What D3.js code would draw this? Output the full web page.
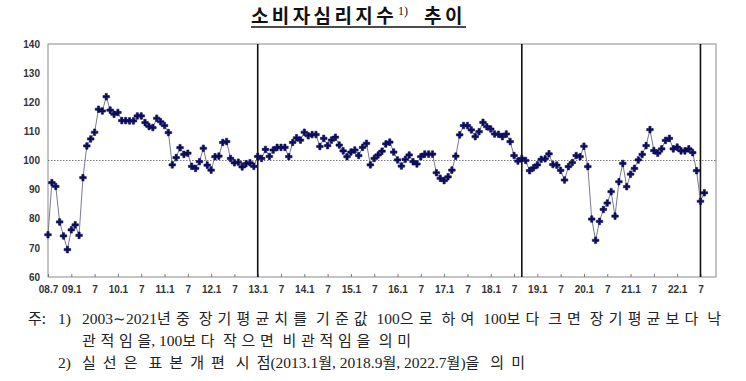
<!DOCTYPE html>
<html><head><meta charset="utf-8">
<script src="https://cdn.jsdelivr.net/npm/d3@7"></script>
<style>
body{margin:0;background:#fff;}
svg{display:block;}
</style></head>
<body>
<svg id="chart" width="746" height="381"></svg>
<script>
// Monthly CCSI from 2008.7 to 2022.8
const startYear = 2008, startMonth = 7;
const values = [
 74.5,92.4,91.1,78.9,74.1,69.4,76.2,77.9,74.3,94.1,105.0,107.4,109.7,117.6,117.0,121.9,117.3,115.9,116.5,113.7,
 113.7,113.6,113.6,115.3,115.3,113.0,111.7,111.3,114.5,113.3,112.0,109.6,98.5,101.0,104.4,102.1,102.5,98.0,97.3,99.6,
 104.2,98.4,96.7,101.3,101.5,106.2,106.5,100.7,99.2,99.4,97.8,98.9,99.2,98.0,101.4,100.7,103.8,101.4,103.6,104.5,
 104.5,104.5,101.3,106.2,107.8,107.0,109.7,108.5,108.9,108.9,104.8,107.6,105.1,107.0,108.0,105.3,103.3,101.3,102.9,103.6,
 101.7,104.5,105.9,98.5,100.7,101.9,103.2,105.7,106.3,102.9,100.2,98.1,100.4,101.9,99.6,98.8,101.3,102.2,102.2,102.2,
 95.8,93.9,93.1,94.4,96.7,101.5,108.8,112.0,112.0,110.5,108.2,109.9,113.1,111.6,110.8,109.1,109.0,108.2,109.1,106.5,
 101.7,99.8,100.7,100.0,96.5,97.5,98.5,100.4,100.6,102.3,98.6,98.4,96.6,93.3,97.9,99.3,101.7,101.3,104.9,97.9,
 79.9,72.6,79.1,83.2,85.4,89.3,80.9,92.7,99.0,91.0,95.3,97.3,100.2,102.1,105.1,110.6,103.4,102.5,104.0,106.9,
 107.6,104.0,104.6,103.3,103.3,104.0,102.7,96.5,86.0,88.9
];
const months = values.map((v,i)=>{const m=startMonth-1+i;return (startYear+Math.floor(m/12))+"."+(m%12+1);});
const xTickLabels = ["08.7","09.1","7","10.1","7","11.1","7","12.1","7","13.1","7","14.1","7","15.1","7","16.1","7","17.1","7","18.1","7","19.1","7","20.1","7","21.1","7","22.1","7"];
const xTickMonths = ["2008.7","2009.1","2009.7","2010.1","2010.7","2011.1","2011.7","2012.1","2012.7","2013.1","2013.7","2014.1","2014.7","2015.1","2015.7","2016.1","2016.7","2017.1","2017.7","2018.1","2018.7","2019.1","2019.7","2020.1","2020.7","2021.1","2021.7","2022.1","2022.7"];
const revisionMonths = ["2013.1","2018.9","2022.7"];
const yTicks = [60,70,80,90,100,110,120,130,140];
const baseline = 100;
const title = "소비자심리지수";
const titleSup = "1)";
const titleTail = "추이";
const noteLabels = ["주:", "", ""];
const noteNums = ["1)", "", "2)"];
const noteTexts = [
 "2003∼2021년중 장기평균치를 기준값 100으로 하여 100보다 크면 장기평균보다 낙",
 "관적임을, 100보다 작으면 비관적임을 의미",
 "실선은 표본개편 시점(2013.1월, 2018.9월, 2022.7월)을 의미"
];

const svg = d3.select("#chart");
const L=48, R=716, T=44, B=277;
const idx = m => months.indexOf(m);
const x = d3.scaleLinear().domain([0,172]).range([L,R]);
const y = d3.scaleLinear().domain([60,140]).range([B,T]);

// frame
svg.append("rect").attr("x",L).attr("y",T).attr("width",R-L).attr("height",B-T)
  .attr("fill","none").attr("stroke","#8a8a8a").attr("stroke-width",1);

// baseline 100
svg.append("line").attr("x1",L).attr("x2",R).attr("y1",y(baseline)).attr("y2",y(baseline))
  .attr("stroke","#555").attr("stroke-width",0.8).attr("stroke-dasharray","1.5,1.5");

const axisFont = "'Liberation Sans', Arial, sans-serif";
// y axis
const yAxis = d3.axisLeft(y).tickValues(yTicks).tickSize(0).tickPadding(8);
const gy = svg.append("g").attr("transform",`translate(${L},0)`).call(yAxis);
gy.select(".domain").remove();
gy.selectAll("text").attr("font-family",axisFont).attr("font-weight","bold")
  .attr("font-size","10px").attr("fill","#333");

// x axis
const xAxis = d3.axisBottom(x).tickValues(xTickMonths.map(idx)).tickSize(0).tickPadding(9)
  .tickFormat((d,i)=>xTickLabels[i]);
const gx = svg.append("g").attr("transform",`translate(0,${B})`).call(xAxis);
gx.select(".domain").remove();
gx.selectAll("text").attr("font-family",axisFont).attr("font-weight","bold")
  .attr("font-size","10px").attr("fill","#333");
gx.selectAll(".tick").append("line").attr("y1",0).attr("y2",-3).attr("stroke","#777");

// revision lines
svg.selectAll("line.rev").data(revisionMonths).enter().append("line").attr("class","rev")
  .attr("x1",d=>x(idx(d))).attr("x2",d=>x(idx(d))).attr("y1",T).attr("y2",B)
  .attr("stroke","#111").attr("stroke-width",1.6);

// line
const line = d3.line().x((d,i)=>x(i)).y(d=>y(d));
svg.append("path").datum(values).attr("d",line).attr("fill","none")
  .attr("stroke","#7a7a92").attr("stroke-width",1);

// markers
const sym = d3.symbol().type(d3.symbolCross).size(24);
svg.selectAll("path.pt").data(values).enter().append("path").attr("class","pt")
  .attr("d",sym).attr("transform",(d,i)=>`translate(${x(i)},${y(d)})`)
  .attr("fill","#0d0d5c").attr("stroke","#0d0d5c").attr("stroke-width",0.6).attr("stroke-linejoin","round");

// title
const tFont = "'Noto Sans CJK KR', sans-serif";
function fitText(sel, target){
  const n = sel.text().length;
  const w = sel.node().getComputedTextLength();
  sel.attr("letter-spacing", (target - w)/n);
}
const t1 = svg.append("text").attr("x",251).attr("y",23).text(title)
  .attr("font-family",tFont).attr("font-weight","bold").attr("font-size","19px").attr("fill","#111");
fitText(t1, 146);
svg.append("text").attr("x",398).attr("y",15).text(titleSup)
  .attr("font-family","'Liberation Serif', serif").attr("font-size","12px").attr("fill","#111");
const t2 = svg.append("text").attr("x",424).attr("y",23).text(titleTail)
  .attr("font-family",tFont).attr("font-weight","bold").attr("font-size","19px").attr("fill","#111");
fitText(t2, 42);
svg.append("line").attr("x1",251).attr("x2",466).attr("y1",27).attr("y2",27)
  .attr("stroke","#111").attr("stroke-width",1.4);

// notes
const serif = "'Liberation Serif', serif";
const kor = "'Noto Sans CJK KR', sans-serif";
const targets = [639, 329, 443];
const isKor = c => /[\u3131-\uD79D\u223C]/.test(c);
noteTexts.forEach((txt,i)=>{
  const yy = 324 + i*22;
  if(noteLabels[i]) svg.append("text").attr("x",28).attr("y",yy).text(noteLabels[i])
    .attr("font-family",kor).attr("font-size","15px").attr("fill","#222");
  if(noteNums[i]) svg.append("text").attr("x",58).attr("y",yy).text(noteNums[i])
    .attr("font-family",serif).attr("font-size","15.5px").attr("fill","#222");
  const t = svg.append("text").attr("x",82).attr("y",yy).attr("fill","#222");
  let nk = 0;
  const chars = Array.from(txt);
  chars.forEach((c,j)=>{
    const k = isKor(c);
    const next = chars[j+1];
    // spaced only when followed by another Korean glyph or a space
    const spaced = k && next !== undefined && (isKor(next) || next === " ");
    t.append("tspan").text(c).attr("font-family", k?kor:serif)
      .attr("font-size", k?"15px":"15.5px").attr("class", spaced?"k":"a");
    if(spaced) nk++;
  });
  const w = t.node().getComputedTextLength();
  const ls = Math.max(0,(targets[i]-w)/nk);
  t.selectAll("tspan.k").attr("letter-spacing", ls);
});
</script>
</body></html>
